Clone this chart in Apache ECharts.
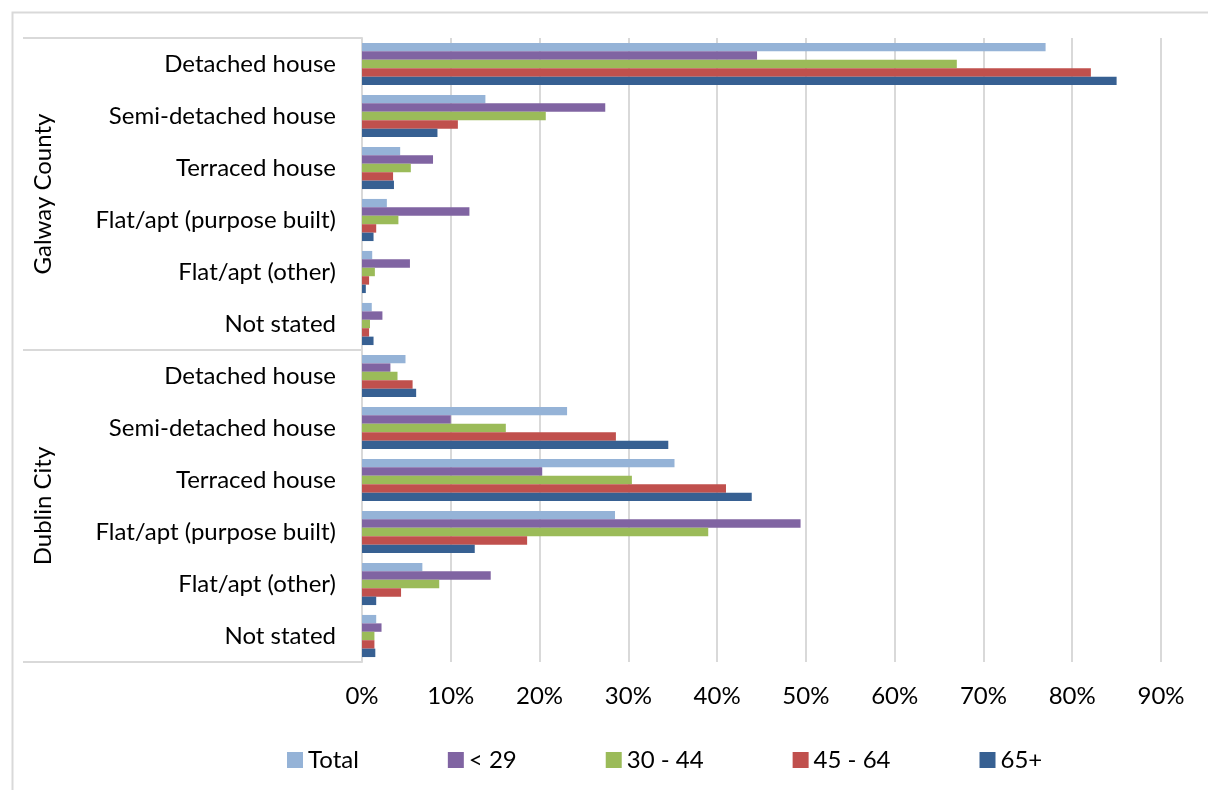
<!DOCTYPE html>
<html>
<head>
<meta charset="utf-8">
<script src="https://cdn.jsdelivr.net/npm/echarts@6/dist/echarts.min.js"></script>
<style>
html,body{margin:0;padding:0;background:#fff;}
#chart{width:1208px;height:790px;}
</style>
</head>
<body>
<div id="chart"></div>
<script>
// Categories (top to bottom)
const categories = [
  'Detached house','Semi-detached house','Terraced house','Flat/apt (purpose built)','Flat/apt (other)','Not stated',
  'Detached house','Semi-detached house','Terraced house','Flat/apt (purpose built)','Flat/apt (other)','Not stated'
];
const groups = ['Galway County', 'Dublin City'];
const seriesNames = ['Total', '< 29', '30 - 44', '45 - 64', '65+'];
// Values in percent, same order as categories
const total  = [77.0, 13.9, 4.3, 2.8, 1.15, 1.1,   4.9, 23.1, 35.2, 28.5, 6.8, 1.6];
const lt29   = [44.5, 27.4, 8.0, 12.1, 5.4, 2.3,   3.2, 10.0, 20.3, 49.4, 14.5, 2.2];
const a30_44 = [67.0, 20.7, 5.5, 4.1, 1.45, 0.9,   4.0, 16.2, 30.4, 39.0, 8.7, 1.4];
const a45_64 = [82.1, 10.8, 3.5, 1.6, 0.8, 0.8,    5.7, 28.6, 41.0, 18.6, 4.4, 1.4];
const a65    = [85.0, 8.5, 3.6, 1.3, 0.43, 1.3,    6.1, 34.5, 43.9, 12.7, 1.6, 1.5];
const xTicks = { min: 0, max: 90, interval: 10 };

const colors = ['#95b3d7', '#8064a2', '#9bbb59', '#c0504d', '#376092'];
const values = [total, lt29, a30_44, a45_64, a65];
const FONT = 'Lato';
const FS = 24;

const chart = echarts.init(document.getElementById('chart'), null, {renderer: 'canvas'});
chart.setOption({
  animation: false,
  backgroundColor: '#ffffff',
  textStyle: { fontFamily: FONT },
  graphic: [{
    type: 'rect', left: 10, top: 10, z: -10,
    shape: { width: 1300, height: 900 },
    style: { fill: 'none', stroke: '#d9d9d9', lineWidth: 2 }
  }],
  grid: { left: 362, right: 47, top: 38, bottom: 128, containLabel: false },
  legend: {
    data: seriesNames,
    left: 282, top: 743,
    itemWidth: 16, itemHeight: 16, itemGap: 89,
    icon: 'rect',
    textStyle: { fontFamily: FONT, fontSize: FS, color: '#000' }
  },
  xAxis: {
    type: 'value', min: xTicks.min, max: xTicks.max, interval: xTicks.interval,
    axisLine: { show: false }, axisTick: { show: false },
    splitLine: { show: true, lineStyle: { color: '#d9d9d9', width: 2 } },
    axisLabel: { formatter: '{value}%', margin: 22, fontFamily: FONT, fontSize: FS, color: '#000' }
  },
  yAxis: [{
    type: 'category', data: categories, inverse: true, position: 'left',
    axisLine: { show: true, lineStyle: { color: '#d9d9d9', width: 2 } },
    axisTick: { show: false },
    axisLabel: { margin: 26, fontFamily: FONT, fontSize: FS, color: '#000', interval: 0 }
  }, {
    type: 'category', data: groups, inverse: true, position: 'left', offset: 0,
    axisLine: { show: false },
    axisTick: { show: true, length: 339, lineStyle: { color: '#d9d9d9', width: 2 } },
    axisLabel: { rotate: 90, margin: 307, fontFamily: FONT, fontSize: FS, color: '#000' }
  }],
  series: seriesNames.map((name, i) => ({
    name: name, type: 'bar', yAxisIndex: 0,
    data: values[i],
    barGap: '0%', barCategoryGap: '19%',
    itemStyle: { color: colors[i] }
  }))
});
</script>
</body>
</html>
